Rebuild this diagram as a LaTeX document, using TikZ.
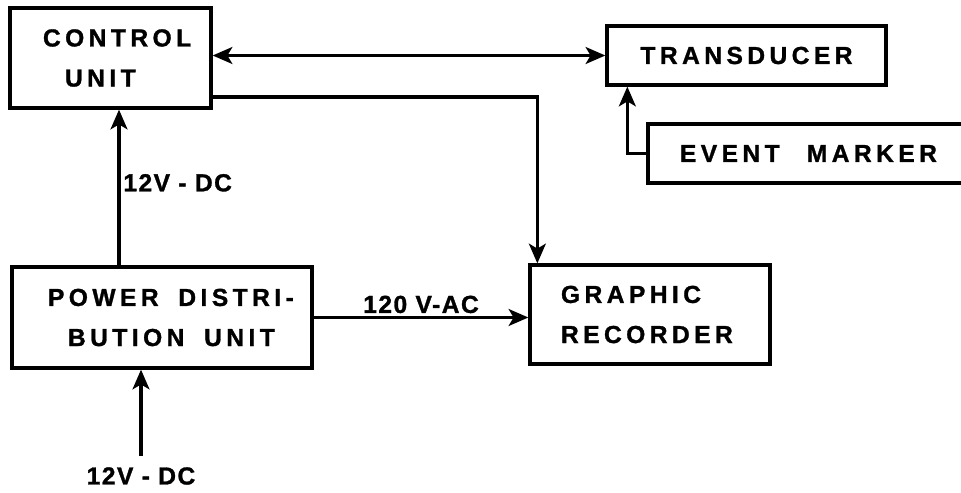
\documentclass[tikz,border=0pt]{standalone}
\usepackage{fontspec}
\setmainfont{Liberation Sans}
\newfontfamily\boxfont[LetterSpace=18,BoldFeatures={FakeBold=1.2}]{Liberation Sans}
\newfontfamily\lblfont[LetterSpace=6,BoldFeatures={FakeBold=1.2}]{Liberation Sans}
\usetikzlibrary{arrows.meta,calc}

\begin{document}
\begin{tikzpicture}[x=0.025cm, y=-0.025cm,
  >={Stealth[length=14pt,width=12pt,inset=3.5pt]},
  block/.style={draw, line width=2.3pt, rectangle, inner ysep=0pt,
    font={\boxfont\bfseries\fontsize{17.5}{28.5}\selectfont}},
  lbl/.style={inner sep=2pt, font={\lblfont\bfseries\fontsize{17.5}{21}\selectfont}},
  wire/.style={line width=2.2pt}]
  \useasboundingbox (0,0) rectangle (961,493);
  \clip (0,0) rectangle (961,493);

  % blocks
  \node[block, text width=3.375cm, inner xsep=0.825cm, minimum height=2.5cm, align=left] (ctrl) at (110.5,58) {CONTROL\\\hspace*{0.55cm}UNIT};
  \node[block, minimum width=6.975cm, minimum height=1.475cm] (trans) at (746.5,55.5) {TRANSDUCER};
  \node[block, text width=7.15cm, inner xsep=0.8cm, minimum height=1.475cm, align=left] (event) at (823,153.5) {\mbox{EVENT\kern1.1em MARKER}};
  \node[block, text width=5.7cm, inner xsep=0.9cm, minimum height=2.525cm, align=left] (pdu) at (162,317.5) {\mbox{POWER\kern0.8em DISTRI-}\\\mbox{\kern0.5cm BUTION\kern0.8em UNIT}};
  \node[block, text width=4.45cm, inner xsep=0.775cm, minimum height=2.475cm, align=left] (rec) at (650,314.5) {GRAPHIC\\RECORDER};

  % connections
  \draw[wire, <->] (trans.west -| ctrl.east) -- (trans.west);
  \draw[wire, ->] ($(ctrl.east)+(0,39)$) -| ($(rec.north west)+(9,0)$);
  \draw[wire, ->] (event.west) -| ($(trans.south west)+(22,0)$);

  \coordinate (up) at ($(ctrl.south)+(8.5,0)$);
  \draw[wire, ->] (up |- pdu.north) -- (up) node[lbl, pos=0.53, right] {12V - DC};
  \draw[wire, ->] (pdu.east) -- (pdu.east -| rec.west) node[lbl, midway, above] {120 V-AC};

  \node[lbl] (dcin) at (141,476) {12V - DC};
  \draw[wire, ->] ([yshift=0.2cm]dcin.north) -- (dcin.north |- pdu.south);
\end{tikzpicture}
\end{document}
